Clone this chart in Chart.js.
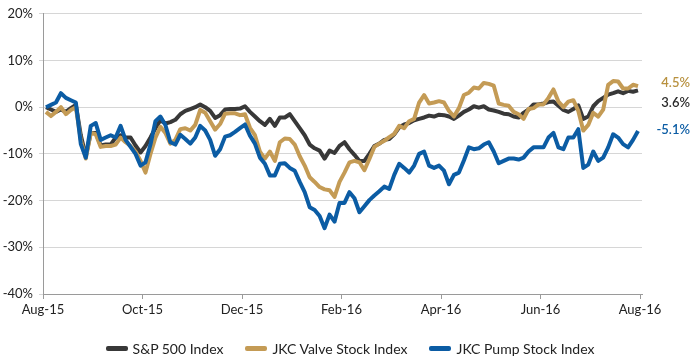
<!DOCTYPE html>
<html>
<head>
<meta charset="utf-8">
<script src="https://cdn.jsdelivr.net/npm/chart.js@4/dist/chart.umd.min.js"></script>
<style>
  body { margin: 0; background: #fff; }
  #wrap { position: relative; width: 700px; height: 361px; }
  #legend {
    position: absolute; left: 0; top: 340px; width: 700px;
    display: flex; justify-content: center; align-items: center; white-space: nowrap;
    font-family: 'Lato', sans-serif; font-size: 14px; color: #222;
  }
  #legend .item { display: flex; align-items: center; margin: 0 11px; }
  #legend .swatch { width: 22px; height: 5px; border-radius: 2px; margin-right: 5px; }
</style>
</head>
<body>
<div id="wrap">
  <canvas id="chart" width="700" height="361"></canvas>
  <div id="legend"></div>
</div>
<script>
// Cumulative return (%) since Aug-15, one reading every ~0.1 month
const xStart = 0.06;
const xStep = 0.1;
const monthLabels = ['Aug-15', 'Oct-15', 'Dec-15', 'Feb-16', 'Apr-16', 'Jun-16', 'Aug-16'];

const sp500 = [
  0, -0.5, -1.0, -0.5, -1.0, -0.2, 0.5, -6.0, -10.5, -5.5,
  -5.5, -8.2, -8.0, -8.0, -6.5, -6.0, -6.5, -6.5, -8.2, -9.7,
  -8.3, -6.5, -4.5, -2.8, -3.5, -3.2, -2.7, -1.5, -0.8, -0.4,
  0, 0.6, 0, -0.8, -2.3, -1.7, -0.5, -0.4, -0.4, -0.3,
  0.2, -1.0, -2.0, -3.0, -3.8, -2.5, -4.0, -2.2, -2.2, -1.5,
  -3.0, -4.5, -6.0, -8.0, -8.8, -9.3, -11.0, -9.3, -9.8, -8.3,
  -7.5, -9.0, -10.2, -11.5, -11.5, -10.0, -8.3, -7.8, -7.0, -6.8,
  -5.8, -4.3, -3.7, -3.4, -2.8, -2.5, -2.2, -1.8, -2.0, -1.6,
  -1.7, -2.0, -2.5, -1.8, -1.0, -0.5, 0.2, -0.1, 0.2, -0.5,
  -0.7, -1.0, -1.4, -1.5, -2.0, -2.2, -1.2, -0.5, 0.6, 0.6,
  0.8, 1.1, 1.2, 0.3, -0.6, -1.0, -0.4, 0.4, -2.5, -2.0,
  0.2, 1.3, 2.0, 2.7, 3.0, 3.4, 3.0, 3.5, 3.3, 3.6
];

const valveIndex = [
  -1.0, -1.9, -1.0, 0, -1.5, -0.6, 0, -7.0, -11.0, -5.5,
  -5.8, -8.5, -8.3, -8.3, -8.0, -6.5, -7.5, -8.3, -9.5, -11.5,
  -14.0, -10.0, -6.5, -4.2, -5.5, -7.8, -7.0, -4.7, -4.5, -5.0,
  -3.8, -0.6, -1.2, -3.0, -4.8, -3.6, -1.4, -1.3, -1.3, -1.7,
  -1.5, -4.4, -6.0, -9.5, -11.0, -9.5, -11.5, -7.5, -6.7, -6.8,
  -8.0, -10.5, -12.5, -15.0, -16.0, -17.1, -17.6, -17.8, -19.2, -16.0,
  -14.0, -11.8, -11.5, -11.8, -13.5, -11.1, -8.5, -7.8, -7.2, -6.4,
  -5.7, -4.0, -4.5, -3.0, -2.5, 1.0, 2.6, 0.8, 1.0, 1.3,
  1.0, -0.8, -2.0, -0.2, 2.6, 3.1, 4.2, 4.0, 5.2, 5.0,
  4.6, 0.8, 0.5, 0.3, -1.0, -1.5, -2.5, -0.4, -0.2, 0.6,
  0.6, 2.0, 3.8, 1.2, 0, 1.2, 1.5, -0.8, -5.0, -3.8,
  -1.2, -2.0, -0.5, 4.8, 5.6, 5.5, 4.0, 4.0, 4.8, 4.5
];

const pumpIndex = [
  0, 0.5, 1.0, 3.0, 2.0, 1.5, 1.0, -7.9, -10.8, -4.0,
  -3.4, -7.0, -6.5, -6.0, -6.5, -4.0, -7.0, -8.5, -10.0, -12.5,
  -11.8, -8.0, -3.0, -2.0, -3.8, -7.5, -8.0, -5.9, -6.8, -7.8,
  -6.5, -4.0, -5.0, -7.0, -10.4, -9.0, -6.3, -6.0, -5.3, -4.5,
  -3.7, -6.1, -7.8, -10.8, -12.1, -14.6, -14.6, -12.1, -12.0, -13.0,
  -13.6, -16.0, -18.2, -21.4, -22.0, -23.3, -25.9, -23.0, -24.5, -20.5,
  -20.5, -18.2, -19.5, -22.5, -21.2, -19.9, -18.9, -18.0, -17.0, -17.5,
  -14.5, -12.1, -13.0, -14.0, -12.5, -10.0, -9.5, -12.5, -13.0, -12.5,
  -13.6, -16.5, -14.5, -14.0, -11.4, -8.6, -9.0, -8.8, -8.0, -7.5,
  -9.5, -12.0, -11.5, -11.0, -11.0, -11.2, -10.8, -9.5, -8.6, -8.6,
  -8.6, -6.5, -5.5, -8.6, -9.0, -6.5, -6.5, -4.7, -13.0, -12.3,
  -9.5, -11.5, -10.8, -8.6, -5.8, -6.5, -7.9, -8.6, -7.0, -5.1
];

const seriesNames = ['S&P 500 Index', 'JKC Valve Stock Index', 'JKC Pump Stock Index'];
const seriesColors = ['#383838', '#c49b55', '#0b5ca4'];
const endLabelColors = ['#2b2b2b', '#b8913f', '#0b5ca4'];

const FONT = 'Lato, sans-serif';

// turn a value list into {x, y} points
function toPoints(values) {
  return values.map((v, i) => ({ x: xStart + i * xStep, y: v }));
}

// final values written to the right of the plot
const endLabels = {
  id: 'endLabels',
  afterDatasetsDraw(chart) {
    const ctx = chart.ctx;
    const yScale = chart.scales.y;
    const spots = [0.9, 5.3, -4.8];   // label heights (in % units) for S&P, Valve, Pump
    const lists = [sp500, valveIndex, pumpIndex];
    ctx.save();
    ctx.font = '600 13px ' + FONT;
    ctx.textAlign = 'right';
    ctx.textBaseline = 'middle';
    lists.forEach((list, i) => {
      const last = list[list.length - 1];
      ctx.fillStyle = endLabelColors[i];
      ctx.fillText(last.toFixed(1) + '%', 690, yScale.getPixelForValue(spots[i]));
    });
    ctx.restore();
  }
};

const datasets = [sp500, valveIndex, pumpIndex].map((list, i) => ({
  label: seriesNames[i],
  data: toPoints(list),
  borderColor: seriesColors[i],
  backgroundColor: seriesColors[i],
  borderWidth: 4,
  pointRadius: 0,
  tension: 0,
  borderJoinStyle: 'round',
  fill: false,
  order: 2 - i
}));

new Chart(document.getElementById('chart').getContext('2d'), {
  type: 'line',
  data: { datasets: datasets },
  plugins: [endLabels],
  options: {
    responsive: false,
    animation: false,
    layout: { padding: { left: 0, top: 11, right: 58, bottom: 37 } },
    plugins: {
      legend: { display: false },
      tooltip: { enabled: false }
    },
    scales: {
      x: {
        type: 'linear',
        min: 0,
        max: 12.04,
        afterBuildTicks(scale) {
          scale.ticks = monthLabels.map((m, i) => ({ value: i * 2 }));
        },
        afterFit(scale) { scale.height = 30; },
        ticks: {
          callback: (v) => monthLabels[Math.round(v / 2)],
          color: '#222',
          font: { family: FONT, size: 13 },
          padding: 3,
          maxRotation: 0
        },
        grid: { drawOnChartArea: false, tickLength: 5, color: '#9a9a9a' },
        border: { color: '#9a9a9a' }
      },
      y: {
        min: -40,
        max: 20,
        afterFit(scale) { scale.width = 43; },
        ticks: {
          stepSize: 10,
          callback: (v) => v + '%',
          color: '#222',
          font: { family: FONT, size: 13 },
          padding: 6
        },
        grid: { color: '#d6d6d6', tickLength: 4 },
        border: { color: '#9a9a9a' }
      }
    }
  }
});

// html legend under the axis
const legend = document.getElementById('legend');
seriesNames.forEach((name, i) => {
  const item = document.createElement('div');
  item.className = 'item';
  const swatch = document.createElement('div');
  swatch.className = 'swatch';
  swatch.style.background = seriesColors[i];
  const text = document.createElement('span');
  text.textContent = name;
  item.appendChild(swatch);
  item.appendChild(text);
  legend.appendChild(item);
});
</script>
</body>
</html>
